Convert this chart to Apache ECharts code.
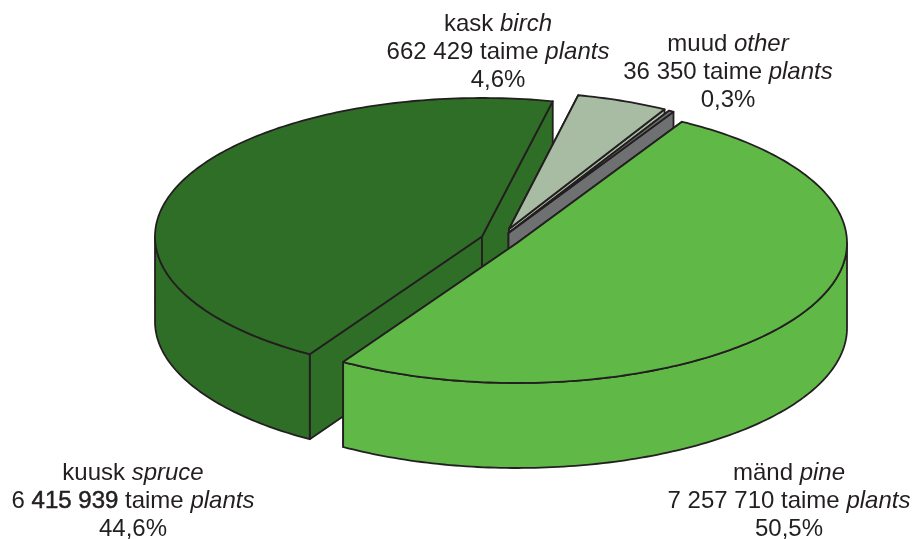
<!DOCTYPE html>
<html>
<head>
<meta charset="utf-8">
<style>html,body{margin:0;padding:0;background:#fff}#c{width:915px;height:539px}</style>
<script src="https://cdn.jsdelivr.net/npm/echarts@6/dist/echarts.min.js"></script>
</head>
<body>
<div id="c"></div>
<script>
// Data, in drawing order
const namesEt = ['kuusk', 'kask', 'muud', 'mänd'];
const namesEn = ['spruce', 'birch', 'other', 'pine'];
const plants = [6415939, 662429, 36350, 7257710];
const plantLabels = ['6 {b|415 939}', '662 429', '36 350', '7 257 710'];
const shareLabels = ['44,6%', '4,6%', '0,3%', '50,5%'];

// Layout and style
const colors = ['#2f6e26', '#a8bba3', '#6f7072', '#60b947'];
const centres = [[482, 236.5], [509, 229], [508.5, 233], [517, 243]];
const radiiX = [327, 320, 330, 330];
const radiiY = [138.5, 137, 140, 140];
const depth = 85;
const labelPos = [[133, 501.5], [498, 52.5], [728, 72], [789, 501.5]];
const edge = '#231f20';
const pineStartDeg = 60;

const total = plants.reduce((a, b) => a + b, 0);
const sweeps = plants.map(v => v / total * 360);
// Clockwise order round the pie: pine, spruce, birch, other
const starts = [];
starts[3] = pineStartDeg;
starts[0] = starts[3] - sweeps[3];
starts[1] = starts[0] - sweeps[0];
starts[2] = starts[1] - sweeps[1];

function pt(i, deg, dz) {
  const r = deg * Math.PI / 180;
  return [centres[i][0] + radiiX[i] * Math.cos(r), centres[i][1] - radiiY[i] * Math.sin(r) + (dz || 0)];
}
function arc(i, from, to, dz) {
  const out = [], n = Math.max(2, Math.ceil(Math.abs(to - from)));
  for (let k = 0; k <= n; k++) out.push(pt(i, from + (to - from) * k / n, dz));
  return out;
}
function poly(points, i, z) {
  return {
    type: 'polygon', z2: z, shape: { points },
    style: { fill: colors[i], stroke: edge, lineWidth: 1.8, lineJoin: 'round' }
  };
}

function renderSlice(params, api) {
  const i = params.dataIndex;
  const a0 = starts[i], a1 = a0 - api.value(0) / total * 360;
  const c = centres[i], base = i * 10;
  const kids = [];
  // radial walls
  [a0, a1].forEach((a, k) => {
    const p = pt(i, a);
    kids.push(poly([c, p, [p[0], p[1] + depth], [c[0], c[1] + depth]], i, base + k));
  });
  // outer wall: only the part on the near half of the ellipse (angles in -180..0)
  const top = Math.min(a0, 0), low = Math.max(a1, -180);
  if (top > low) {
    kids.push(poly(arc(i, top, low, 0).concat(arc(i, low, top, depth)), i, base + 3));
  }
  // top face
  kids.push(poly([c].concat(arc(i, a0, a1, 0)), i, base + 4));
  return { type: 'group', children: kids };
}

const textBase = { fontFamily: 'Liberation Sans', fontSize: 24, lineHeight: 28, fill: edge };
const labelElements = namesEt.map((n, i) => ({
  type: 'text', x: labelPos[i][0], y: labelPos[i][1], z: 10,
  style: {
    text: '{r|' + n + ' }{i|' + namesEn[i] + '}\n'
      + plantLabels[i].split(/(\{b\|[^}]*\})/).filter(Boolean).map(s => s[0] === '{' ? s : '{r|' + s + '}').join('')
      + '{r| taime }{i|plants}\n{r|' + shareLabels[i] + '}',
    x: 0, y: 0,
    align: 'center', verticalAlign: 'middle',
    rich: {
      r: textBase,
      b: Object.assign({}, textBase, { stroke: edge, lineWidth: 0.5 }),
      i: Object.assign({}, textBase, { fontStyle: 'italic' })
    }
  }
}));

const chart = echarts.init(document.getElementById('c'), null, { renderer: 'canvas' });
chart.setOption({
  animation: false,
  backgroundColor: '#fff',
  graphic: { elements: labelElements },
  series: [{
    type: 'custom',
    coordinateSystem: 'none',
    renderItem: renderSlice,
    silent: true,
    data: plants.map((v, i) => ({ name: namesEt[i], value: [v] }))
  }]
});
</script>
</body>
</html>
